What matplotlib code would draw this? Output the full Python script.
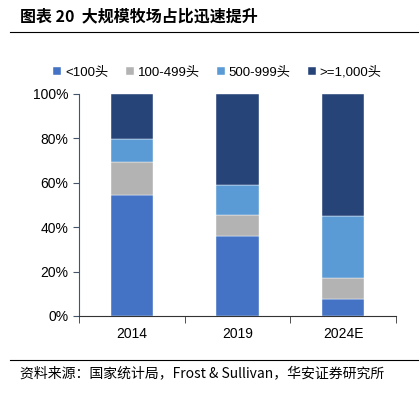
import numpy as np
import matplotlib.pyplot as plt
from matplotlib.lines import Line2D

plt.rcParams['font.family'] = ['Liberation Sans', 'Noto Sans CJK SC', 'DejaVu Sans']

years = ['2014', '2019', '2024E']
lt100 = np.array([54.7, 36.0, 7.8])
s100_499 = np.array([14.7, 9.6, 9.4])
s500_999 = np.array([10.4, 13.2, 27.9])
ge1000 = np.array([20.2, 41.2, 54.9])
labels = ['<100头', '100-499头', '500-999头', '>=1,000头']
colors = ['#4472C4', '#B3B3B3', '#5B9BD5', '#264478']

fig = plt.figure(figsize=(4.2, 3.93), dpi=100)
ax = fig.add_axes([0.188, 0.196, 0.755, 0.565])

x = np.arange(len(years))
bottom = np.zeros(len(years))
for vals, lab, c in zip([lt100, s100_499, s500_999, ge1000], labels, colors):
    ax.bar(x, vals, width=0.4, bottom=bottom, color=c, label=lab, edgecolor='white', linewidth=0.3)
    bottom += vals

ax.set_xlim(-0.5, 2.5)
ax.set_ylim(0, 100)
ax.set_yticks(np.arange(0, 101, 20))
ax.set_yticklabels([f'{v}%' for v in range(0, 101, 20)], fontsize=10)
ax.set_xticks(x)
ax.set_xticklabels(years, fontsize=10)
ax.tick_params(axis='x', length=0, pad=8)
ax.set_xticks([-0.5, 0.5, 1.5, 2.5], minor=True)
ax.tick_params(axis='x', which='minor', length=5, color='#333333')
ax.tick_params(axis='y', length=4, color='#44546A')
for s in ['top', 'right']:
    ax.spines[s].set_visible(False)
ax.spines['left'].set_color('#44546A')
ax.spines['bottom'].set_color('#333333')

fig.legend(loc='center', bbox_to_anchor=(0.518, 0.815), ncol=4, frameon=False,
           fontsize=9.5, handlelength=0.6, handleheight=0.6, handletextpad=0.3,
           columnspacing=1.3)

fig.text(0.048, 0.945, '图表 20  大规模牧场占比迅速提升', fontsize=11.5, fontweight='bold',
         family=['Noto Sans CJK SC', 'DejaVu Sans'])
fig.add_artist(Line2D([0.024, 0.995], [0.918, 0.918], color='black', linewidth=0.8))
fig.add_artist(Line2D([0.024, 0.995], [0.084, 0.084], color='black', linewidth=0.8))
fig.text(0.048, 0.04, '资料来源：国家统计局，Frost & Sullivan，华安证券研究所', fontsize=10,
         family=['Noto Sans CJK SC', 'DejaVu Sans'])

fig.savefig('out.png', dpi=100)
